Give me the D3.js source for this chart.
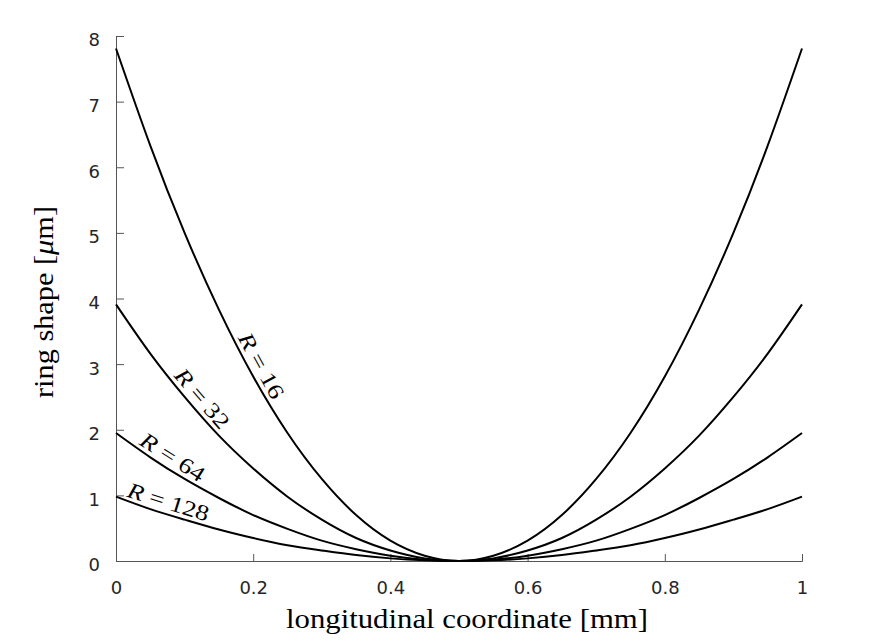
<!DOCTYPE html>
<html><head><meta charset="utf-8">
<script src="https://cdn.jsdelivr.net/npm/d3@7"></script>
<style>body{margin:0;background:#fff}</style>
</head><body>
<svg id="c" width="888" height="644"></svg>
<script>
// Data
const xs = [0,0.05,0.1,0.15,0.2,0.25,0.3,0.35,0.4,0.45,0.5,0.55,0.6,0.65,0.7,0.75,0.8,0.85,0.9,0.95,1];
const r16  = [7.81,6.33,5.00,3.83,2.81,1.95,1.25,0.70,0.31,0.08,0,0.08,0.31,0.70,1.25,1.95,2.81,3.83,5.00,6.33,7.81];
const r32  = [3.91,3.16,2.50,1.91,1.41,0.98,0.63,0.35,0.16,0.04,0,0.04,0.16,0.35,0.63,0.98,1.41,1.91,2.50,3.16,3.91];
const r64  = [1.95,1.58,1.25,0.96,0.70,0.49,0.31,0.18,0.08,0.02,0,0.02,0.08,0.18,0.31,0.49,0.70,0.96,1.25,1.58,1.95];
const r128 = [0.98,0.79,0.63,0.48,0.35,0.24,0.16,0.09,0.04,0.01,0,0.01,0.04,0.09,0.16,0.24,0.35,0.48,0.63,0.79,0.98];
const seriesNames = ["16","32","64","128"];
const seriesValues = [r16, r32, r64, r128];
const labelX = [0.196, 0.112, 0.073, 0.071];
const labelLen = [72, 72, 72, 84];
const xTicks = [0,0.2,0.4,0.6,0.8,1];
const yTicks = [0,1,2,3,4,5,6,7,8];

const svg = d3.select("#c");
const x = d3.scaleLinear().domain([0,1]).range([116,802]);
const y = d3.scaleLinear().domain([0,8]).range([561,36]);
const axisColor = "#555";
const textColor = "#262626";

// axes
const gx = svg.append("g").attr("transform","translate(0,561)")
  .call(d3.axisBottom(x).tickValues(xTicks).tickFormat(d=>d3.format("")(d)).tickSizeInner(-7).tickSizeOuter(-7).tickPadding(20));
const gy = svg.append("g").attr("transform","translate(116,0)")
  .call(d3.axisLeft(y).tickValues(yTicks).tickSizeInner(-8).tickSizeOuter(-8).tickPadding(16));
[gx,gy].forEach(g=>{
  g.select(".domain").attr("stroke",axisColor).attr("stroke-width",1);
  g.selectAll(".tick line").attr("stroke",axisColor);
  g.selectAll(".tick text").attr("fill",textColor).attr("font-family","DejaVu Sans").attr("font-size",18);
});
gy.selectAll(".tick text").attr("dy","0.55em");

// curves
const line = d3.line().x((d,i)=>x(xs[i])).y(d=>y(d)).curve(d3.curveNatural);
seriesValues.forEach(v=>{
  svg.append("path").attr("d",line(v)).attr("fill","none").attr("stroke","#000").attr("stroke-width",2);
});

// inline labels, positioned on the curve using neighbouring samples
seriesValues.forEach((v,k)=>{
  const lx = labelX[k];
  const i = Math.max(1, Math.round(lx/0.05));
  const x0=xs[i-1],x1=xs[i],x2=xs[i+1],y0=v[i-1],y1=v[i],y2=v[i+1];
  const L0=t=>((t-x1)*(t-x2))/((x0-x1)*(x0-x2)), L1=t=>((t-x0)*(t-x2))/((x1-x0)*(x1-x2)), L2=t=>((t-x0)*(t-x1))/((x2-x0)*(x2-x1));
  const f = t => y0*L0(t)+y1*L1(t)+y2*L2(t);
  const px = x(lx), py = y(f(lx));
  const h = 0.002;
  const dx = x(lx+h)-x(lx-h), dy = y(f(lx+h))-y(f(lx-h));
  const ang = Math.atan2(dy,dx)*180/Math.PI;
  const t = svg.append("text")
    .attr("transform",`translate(${px},${py}) rotate(${ang})`)
    .attr("y",-5).attr("text-anchor","middle")
    .attr("textLength",labelLen[k]).attr("lengthAdjust","spacingAndGlyphs")
    .attr("font-family","Liberation Serif").attr("font-size",22).attr("fill","#000");
  t.append("tspan").attr("font-style","italic").text("R");
  t.append("tspan").text(" = " + seriesNames[k]);
});

// axis titles
svg.append("text").attr("x",467).attr("y",628).attr("text-anchor","middle")
  .attr("textLength",362).attr("lengthAdjust","spacingAndGlyphs")
  .attr("font-family","Liberation Serif").attr("font-size",27).attr("fill","#000")
  .text("longitudinal coordinate [mm]");
const yt = svg.append("text").attr("transform","translate(53,302) rotate(-90)").attr("text-anchor","middle")
  .attr("textLength",192).attr("lengthAdjust","spacingAndGlyphs")
  .attr("font-family","Liberation Serif").attr("font-size",27).attr("fill","#000");
yt.append("tspan").text("ring shape [");
yt.append("tspan").attr("font-style","italic").text("μ");
yt.append("tspan").text("m]");
</script>
</body></html>
